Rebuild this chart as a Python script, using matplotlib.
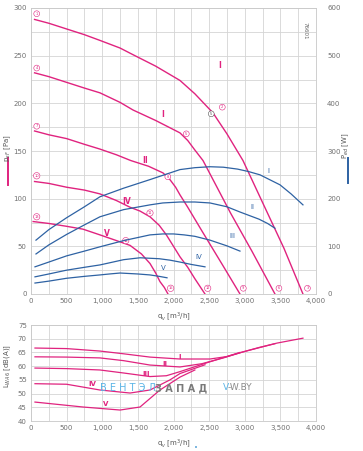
import matplotlib.pyplot as plt
import numpy as np
from matplotlib.lines import Line2D
from matplotlib.patches import Rectangle

# ---- data ----
# static pressure curves [Pa], one list of (q, p) per speed step
p1 = [(50, 288), (250, 284), (500, 278), (750, 272), (968, 266), (1250, 258), (1432, 251), (1750, 239),
      (2091, 224), (2300, 210), (2554, 190), (2750, 168), (2975, 140), (3256, 95), (3550, 48), (3817, 0)]
p2 = [(50, 232), (250, 228), (500, 222), (750, 216), (968, 211), (1250, 201), (1432, 193), (1750, 182),
      (2091, 169), (2200, 161), (2300, 151), (2414, 140), (2800, 85), (3100, 45), (3424, 0)]
p3 = [(50, 171), (250, 167), (500, 163), (750, 157), (968, 152), (1200, 146), (1400, 140), (1650, 134),
      (1853, 127), (1950, 120), (2030, 112), (2091, 104), (2200, 91), (2400, 66), (2700, 29), (2933, 0)]
p4 = [(50, 118), (250, 116), (500, 112), (750, 109), (968, 105), (1200, 98), (1390, 91), (1530, 87),
      (1670, 81), (1800, 72), (1900, 62), (2000, 50), (2091, 39), (2200, 28), (2300, 16), (2442, 0)]
p5 = [(30, 76), (250, 74), (500, 71), (730, 68), (968, 62), (1200, 56), (1390, 51), (1550, 42),
      (1670, 32), (1750, 22), (1810, 13), (1870, 7), (1923, 0)]
pressure = [p1, p2, p3, p4, p5]

# input power curves [W]
w1 = [(70, 113), (250, 135), (500, 160), (750, 183), (968, 204), (1300, 222), (1670, 240), (2091, 261),
      (2300, 265), (2512, 267), (2700, 266), (2900, 262), (3050, 257), (3214, 250), (3495, 229), (3650, 210), (3817, 187)]
w2 = [(70, 84), (250, 103), (500, 125), (750, 145), (968, 162), (1300, 177), (1670, 187), (1850, 191),
      (2091, 193), (2300, 193), (2512, 191), (2750, 183), (2933, 172), (3200, 157), (3320, 148), (3424, 138)]
w3 = [(56, 57), (250, 67), (500, 80), (750, 90), (968, 99), (1300, 112), (1670, 124), (1850, 126),
      (2000, 126), (2150, 124), (2300, 121), (2512, 113), (2750, 101), (2933, 90)]
w4 = [(56, 36), (250, 42), (500, 50), (750, 56), (968, 61), (1150, 67), (1300, 72), (1530, 76),
      (1800, 74), (1950, 71), (2091, 67), (2250, 62), (2442, 57)]
w5 = [(56, 23), (250, 27), (500, 33), (750, 37), (968, 40), (1100, 42), (1250, 44), (1500, 42),
      (1670, 40), (1800, 37), (1909, 34)]
power = [w1, w2, w3, w4, w5]

# sound power level [dB(A)]
l1 = [(56, 66.6), (500, 66.4), (968, 65.5), (1300, 64.5), (1670, 63.3), (2091, 62.6), (2512, 62.6),
      (2750, 63.5), (2976, 65.2), (3452, 68.4), (3817, 70.2)]
l2 = [(56, 63.4), (500, 63.3), (968, 63.0), (1300, 62.0), (1670, 60.4), (2091, 59.7), (2400, 60.9),
      (2700, 63.0), (2976, 65.2), (3200, 66.8), (3424, 68.2)]
l3 = [(56, 59.3), (500, 59.1), (968, 58.6), (1300, 57.5), (1670, 56.2), (1900, 56.5), (2091, 58.0),
      (2500, 61.5), (2933, 65.0)]
l4 = [(56, 53.6), (500, 53.4), (968, 51.3), (1390, 50.2), (1670, 51.3), (1951, 55.0), (2091, 57.3),
      (2442, 60.5)]
l5 = [(56, 46.9), (730, 45.1), (1250, 44.0), (1530, 45.1), (1810, 51.3), (2091, 56.0), (2300, 58.6)]
noise = [l1, l2, l3, l4, l5]

x_ticks = [0, 500, 1000, 1500, 2000, 2500, 3000, 3500, 4000]
x_labels = ['0', '500', '1,000', '1,500', '2,000', '2,500', '3,000', '3,500', '4,000']

mag = '#e0237f'
blue = '#2e62a3'
grid_c = '#d4d4d4'
tick_c = '#707070'
fs = 5

fig = plt.figure(figsize=(3.63, 4.51), dpi=100)
ax = fig.add_axes([31/363, 1-294/451, 285/363, 286/451])
ax2 = ax.twinx()
axb = fig.add_axes([31/363, 1-421/451, 285/363, 96/451])

def style(a, ylim, yt, ystep):
    a.set_xlim(0, 4000)
    a.set_ylim(*ylim)
    a.set_xticks(x_ticks)
    a.set_xticklabels(x_labels)
    a.set_xticks(np.arange(0, 4001, 250), minor=True)
    a.set_yticks(yt)
    a.set_yticks(np.arange(ylim[0], ylim[1] + 0.1, ystep), minor=True)
    a.grid(True, which='both', color=grid_c, lw=0.6)
    a.tick_params(which='both', length=0, labelsize=fs, labelcolor=tick_c, pad=3)
    for s in a.spines.values():
        s.set_color('#c8c8c8')
        s.set_linewidth(0.6)
    a.set_axisbelow(True)

style(ax, (0, 300), np.arange(0, 301, 50), 25)
style(axb, (40, 75), np.arange(40, 76, 5), 5)
ax2.set_ylim(0, 600)
ax2.set_yticks(np.arange(0, 601, 100))
ax2.tick_params(length=0, labelsize=fs, labelcolor=tick_c, pad=8)
for s in ax2.spines.values():
    s.set_visible(False)

for c in pressure:
    q, v = zip(*c)
    ax.plot(q, v, color=mag, lw=1.0)
for c in power:
    q, v = zip(*c)
    ax2.plot(q, v, color=blue, lw=0.9)
for c in noise:
    q, v = zip(*c)
    axb.plot(q, v, color=mag, lw=0.9)

ax.set_xlabel(r'q$_v$ [m$^3$/h]', fontsize=fs, color='#555555', labelpad=4)
axb.set_xlabel(r'q$_v$ [m$^3$/h]', fontsize=fs, color='#555555', labelpad=4)

# roman step labels
for (x, y, t) in [(2650, 240, 'I'), (1850, 188, 'I'), (1600, 140, 'II'), (1340, 97, 'IV'), (1060, 63, 'V')]:
    ax.text(x, y, t, color=mag, fontsize=5.5, fontweight='bold', ha='center', va='center')
for (x, y, t) in [(3330, 258, 'I'), (3100, 182, 'II'), (2820, 121, 'III'), (2350, 77, 'IV'), (1860, 55, 'V')]:
    ax2.text(x, y, t, color=blue, fontsize=5, ha='center', va='center')
for (x, y, t) in [(2090, 63.5, 'I'), (1880, 60.7, 'II'), (1610, 57.3, 'III'), (860, 53.4, 'IV'), (1050, 46.3, 'V')]:
    axb.text(x, y, t, color=mag, fontsize=5, fontweight='bold', ha='center', va='center')

# circled point markers
marks = [(80, 294, '1'), (2685, 196, '2'), (3880, 6, '3'),
         (80, 237, '4'), (2180, 168, '5'), (3480, 6, '6'),
         (80, 176, '7'), (1920, 123, '8'), (2980, 6, '9'),
         (80, 124, '10'), (1670, 85, '11'), (2480, 6, '12'),
         (80, 81, '13'), (1330, 56, '14'), (1960, 6, '15')]
for x, y, t in marks:
    ax.text(x, y, t, color=mag, fontsize=2.6, ha='center', va='center',
            bbox=dict(boxstyle='circle,pad=0.25', fc='white', ec=mag, lw=0.4))
ax.text(2530, 189, '5', color='#555555', fontsize=2.6, ha='center', va='center',
        bbox=dict(boxstyle='circle,pad=0.25', fc='white', ec='#555555', lw=0.4))

ax.text(3840, 285, '76601', rotation=270, fontsize=4, color='#666666', ha='center', va='top')

# axis titles with colour keys
fig.text(8/363, 1-148/451, r'p$_{sF}$ [Pa]', rotation=90, fontsize=fs, color='#555555', ha='center', va='center')
fig.add_artist(Line2D([8/363, 8/363], [1-158/451, 1-185/451], color=mag, lw=1.4))
fig.text(346/363, 1-146/451, r'P$_{ed}$ [W]', rotation=90, fontsize=fs, color='#555555', ha='center', va='center')
fig.add_artist(Line2D([348/363, 348/363], [1-158/451, 1-183/451], color=blue, lw=1.4))
fig.text(8/363, 1-366/451, r'L$_{WA6}$ [dB(A)]', rotation=90, fontsize=fs, color='#555555', ha='center', va='center')

# watermark
fig.text(100/363, 1-388/451, 'В Е Н Т Э Л', fontsize=7, color='#5ab4e6', ha='left', va='center')
fig.text(155/363, 1-388/451, 'З А П А Д', fontsize=7, color='#7a7a7a', fontweight='bold', ha='left', va='center')
fig.text(223/363, 1-388/451, 'V', fontsize=6.5, color='#5ab4e6', ha='left', va='center')
fig.text(228/363, 1-388/451, '-W.BY', fontsize=6.5, color='#8a8a8a', ha='left', va='center')
fig.add_artist(Rectangle((195/363, 1-448/451), 2/363, 2/451, color='#7fb8e0', lw=0))

fig.savefig('out.png', dpi=100)
